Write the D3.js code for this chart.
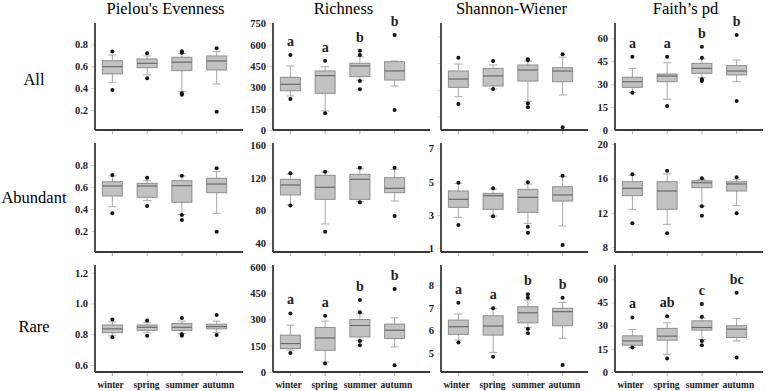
<!DOCTYPE html>
<html>
<head>
<meta charset="utf-8">
<script src="https://cdn.jsdelivr.net/npm/d3@7"></script>
<style>
  body { margin: 0; background: #fff; }
  svg { display: block; }
</style>
</head>
<body>
<svg id="chart" width="772" height="391"></svg>
<script>
const seasons = ["winter", "spring", "summer", "autumn"]
const metrics = ["Pielou's Evenness", "Richness", "Shannon-Wiener", "Faith’s pd"]
const groups = ["All", "Abundant", "Rare"]

// box stats per season: [whisker low, q1, median, q3, whisker high]
const pielouAll = [[0.453, 0.529, 0.595, 0.650, 0.702], [0.520, 0.586, 0.626, 0.666, 0.693], [0.367, 0.559, 0.636, 0.681, 0.715], [0.437, 0.565, 0.647, 0.693, 0.733]]
const pielouAllOut = [[0.733, 0.383], [0.718, 0.489], [0.735, 0.722, 0.352, 0.340], [0.763, 0.184]]
const richAll = [[239, 276, 321, 370, 450], [134, 258, 382, 415, 445], [350, 375, 450, 469, 515], [309, 351, 415, 480, 485]]
const richAllOut = [[527, 218], [487, 117], [557, 527, 344, 286], [668, 141]]
const shanAll = [[3.49, 4.19, 4.81, 5.41, 5.93], [4.07, 4.29, 5.04, 5.61, 5.86], [3.12, 4.66, 5.49, 5.86, 6.15], [3.62, 4.61, 5.41, 5.66, 6.44]]
const shanAllOut = [[6.41, 2.94], [6.16, 4.07], [6.29, 6.23, 2.99, 2.70], [6.66, 1.20]]
const faithAll = [[24.4, 27.9, 31.6, 34.5, 40.3], [20.1, 31.6, 35.3, 36.6, 44.0], [34.2, 37.1, 40.3, 43.6, 46.5], [31.6, 36.0, 38.6, 42.1, 45.8]]
const faithAllOut = [[47.9, 24.4], [47.9, 15.7], [54.5, 47.3, 33.2, 32.0], [62.1, 19.0]]

const pielouAbu = [[0.421, 0.518, 0.609, 0.648, 0.700], [0.476, 0.506, 0.609, 0.633, 0.657], [0.350, 0.461, 0.612, 0.657, 0.700], [0.361, 0.548, 0.627, 0.679, 0.739]]
const pielouAbuOut = [[0.709, 0.361], [0.685, 0.427], [0.703, 0.345, 0.300], [0.770, 0.194]]
const richAbu = [[86.8, 99.0, 111.2, 118.1, 124.5], [63.6, 93.7, 108.4, 123.0, 127.0], [90.8, 93.7, 118.1, 124.2, 131.0], [91.6, 101.8, 107.1, 120.1, 130.3]]
const richAbuOut = [[125.4, 86.0], [127.4, 54.2], [132.3, 90.0], [132.3, 73.3]]
const shanAbu = [[2.86, 3.46, 3.94, 4.44, 4.90], [2.94, 3.34, 4.16, 4.30, 4.55], [2.50, 3.16, 4.06, 4.54, 4.85], [2.34, 3.84, 4.20, 4.70, 5.30]]
const shanAbuOut = [[4.94, 2.40], [4.60, 2.92], [4.96, 2.30, 1.94], [5.36, 1.20]]
const faithAbu = [[12.41, 14.0, 14.86, 15.62, 16.4], [10.67, 12.41, 14.54, 15.62, 16.52], [12.80, 14.93, 15.5, 15.74, 15.9], [12.83, 14.54, 15.36, 15.62, 15.9]]
const faithAbuOut = [[16.48, 10.79], [16.90, 9.63], [16.02, 12.78, 11.67], [16.13, 11.95]]

const pielouRare = [[0.79, 0.81, 0.835, 0.86, 0.88], [0.81, 0.825, 0.845, 0.86, 0.875], [0.805, 0.825, 0.845, 0.87, 0.885], [0.81, 0.835, 0.85, 0.865, 0.885]]
const pielouRareOut = [[0.895, 0.78], [0.89, 0.79], [0.905, 0.80, 0.79], [0.925, 0.795]]
const richRare = [[124, 134, 162, 210, 267], [57, 124, 194, 254, 290], [181, 200, 265, 299, 332], [143, 191, 238, 273, 309]]
const richRareOut = [[334, 109], [320, 48], [410, 340, 177, 153], [473, 38]]
const shanRare = [[5.58, 5.83, 6.17, 6.46, 6.73], [5.04, 5.80, 6.20, 6.65, 6.97], [6.14, 6.34, 6.78, 7.05, 7.34], [5.66, 6.21, 6.83, 6.98, 7.24]]
const shanRareOut = [[7.22, 5.48], [6.98, 4.85], [7.59, 7.44, 6.07, 5.88], [7.44, 4.49]]
const faithRare = [[15.8, 17.3, 20.1, 23.4, 27.5], [11.5, 20.6, 23.2, 28.2, 31.8], [21.0, 27.1, 28.8, 33.1, 35.0], [20.1, 22.3, 27.7, 29.9, 34.7]]
const faithRareOut = [[35.3, 15.8], [36.1, 8.7], [43.9, 35.7, 20.1, 17.3], [51.3, 9.3]]

// significance letters
const richAllLetters = ["a", "a", "b", "b"]
const faithAllLetters = ["a", "a", "b", "b"]
const richRareLetters = ["a", "a", "b", "b"]
const shanRareLetters = ["a", "a", "b", "b"]
const faithRareLetters = ["a", "ab", "c", "bc"]

// axis ticks
const pielouTicks = [0.2, 0.4, 0.6, 0.8]
const pielouRareTicks = [0.6, 0.8, 1.0, 1.2]
const richAllTicks = [0, 150, 300, 450, 600, 750]
const richAbuTicks = [40, 80, 120, 160]
const richRareTicks = [0, 150, 300, 450, 600]
const shanAllTicks = [2, 4, 6, 8]
const shanAbuTicks = [1, 3, 5, 7]
const shanRareTicks = [5, 6, 7, 8]
const faithTicks = [0, 15, 30, 45, 60]
const faithAbuTicks = [8, 12, 16, 20]

// layout
const colX = [95, 273, 441, 615]
const colEnd = [243, 430, 588, 763]
const rowTop = [23, 143, 265]
const rowBottom = [130, 252, 372]
const bandSpan = 139

const panels = [
    { row: 0, col: 0, stats: pielouAll, out: pielouAllOut, domain: [0.017, 0.994], ticks: pielouTicks, fmt: ".1f" },
    { row: 0, col: 1, stats: richAll, out: richAllOut, domain: [0, 752], ticks: richAllTicks, letters: richAllLetters },
    { row: 0, col: 2, stats: shanAll, out: shanAllOut, domain: [1, 9], ticks: shanAllTicks, hideLabels: true },
    { row: 0, col: 3, stats: faithAll, out: faithAllOut, domain: [0, 70], ticks: faithTicks, letters: faithAllLetters },
    { row: 1, col: 0, stats: pielouAbu, out: pielouAbuOut, domain: [0.009, 1.0], ticks: pielouTicks, fmt: ".1f" },
    { row: 1, col: 1, stats: richAbu, out: richAbuOut, domain: [29.4, 162.4], ticks: richAbuTicks },
    { row: 1, col: 2, stats: shanAbu, out: shanAbuOut, domain: [0.78, 7.32], ticks: shanAbuTicks },
    { row: 1, col: 3, stats: faithAbu, out: faithAbuOut, domain: [7.45, 20.12], ticks: faithAbuTicks },
    { row: 2, col: 0, stats: pielouRare, out: pielouRareOut, domain: [0.5545, 1.25], ticks: pielouRareTicks, fmt: ".1f" },
    { row: 2, col: 1, stats: richRare, out: richRareOut, domain: [0, 610], ticks: richRareTicks, letters: richRareLetters },
    { row: 2, col: 2, stats: shanRare, out: shanRareOut, domain: [4.18, 8.88], ticks: shanRareTicks, letters: shanRareLetters },
    { row: 2, col: 3, stats: faithRare, out: faithRareOut, domain: [0, 69.2], ticks: faithTicks, letters: faithRareLetters }
]

const serif = "'Liberation Serif', 'Times New Roman', serif"
const svg = d3.select("#chart")

// column titles
metrics.forEach(function (m, i) {
    svg.append("text")
        .attr("x", colX[i] + bandSpan / 2 + 1)
        .attr("y", 14)
        .attr("text-anchor", "middle")
        .style("font-family", serif)
        .style("font-size", "16.5px")
        .text(m)
})

// row labels
const rowLabelY = [85, 203, 332]
groups.forEach(function (g, i) {
    svg.append("text")
        .attr("x", 34)
        .attr("y", rowLabelY[i])
        .attr("text-anchor", "middle")
        .style("font-family", serif)
        .style("font-size", "16.5px")
        .text(g)
})

function drawPanel(p) {
    let x0 = colX[p.col], x1 = colEnd[p.col]
    let top = rowTop[p.row], bottom = rowBottom[p.row]

    let xScale = d3.scaleBand()
        .domain(seasons)
        .range([x0, x0 + bandSpan])
    let yScale = d3.scaleLinear()
        .domain(p.domain)
        .range([bottom, top])

    let g = svg.append("g")
    let fmt = p.fmt ? d3.format(p.fmt) : d3.format("d")

    // y axis: faint ticks, bold labels
    let yAxis = g.append("g")
        .attr("transform", "translate(" + x0 + ",0)")
        .call(d3.axisLeft(yScale).tickValues(p.ticks).tickFormat(fmt).tickSize(4).tickPadding(3))
    yAxis.select(".domain").remove()
    yAxis.selectAll(".tick line").attr("stroke", "#d4d4d4")
    yAxis.selectAll(".tick text")
        .style("font-family", serif)
        .style("font-weight", "bold")
        .style("font-size", "10.5px")
        .attr("fill", "#222")
        .style("display", p.hideLabels ? "none" : null)

    // x ticks
    g.selectAll(".xt")
        .data(seasons)
        .enter().append("line")
        .attr("x1", d => xScale(d) + xScale.bandwidth() / 2)
        .attr("x2", d => xScale(d) + xScale.bandwidth() / 2)
        .attr("y1", bottom)
        .attr("y2", bottom + 4)
        .attr("stroke", "#aaa")

    // frame lines
    g.append("line")
        .attr("x1", x0).attr("x2", x0)
        .attr("y1", top).attr("y2", bottom)
        .attr("stroke", "#3a3a3a").attr("stroke-width", 1.8)
    g.append("line")
        .attr("x1", x0).attr("x2", x1)
        .attr("y1", bottom).attr("y2", bottom)
        .attr("stroke", "#3a3a3a").attr("stroke-width", 1.8)

    let bw = 20, cap = 8
    seasons.forEach(function (s, i) {
        let st = p.stats[i]
        let cx = xScale(s) + xScale.bandwidth() / 2
        let b = g.append("g")
        // whiskers
        b.append("line")
            .attr("x1", cx).attr("x2", cx)
            .attr("y1", yScale(st[0])).attr("y2", yScale(st[4]))
            .attr("stroke", "#a8a8a8")
        ;[st[0], st[4]].forEach(function (v) {
            b.append("line")
                .attr("x1", cx - cap / 2).attr("x2", cx + cap / 2)
                .attr("y1", yScale(v)).attr("y2", yScale(v))
                .attr("stroke", "#a8a8a8")
        })
        // box
        b.append("rect")
            .attr("x", cx - bw / 2)
            .attr("y", yScale(st[3]))
            .attr("width", bw)
            .attr("height", yScale(st[1]) - yScale(st[3]))
            .attr("fill", "#c2c2c2")
            .attr("stroke", "#8e8e8e")
        b.append("line")
            .attr("x1", cx - bw / 2).attr("x2", cx + bw / 2)
            .attr("y1", yScale(st[2])).attr("y2", yScale(st[2]))
            .attr("stroke", "#6a6a6a").attr("stroke-width", 1.2)
        // outliers
        b.selectAll("circle")
            .data(p.out[i])
            .enter().append("circle")
            .attr("cx", cx)
            .attr("cy", d => yScale(d))
            .attr("r", 2)
            .attr("fill", "#111")
        // letters above highest point
        if (p.letters) {
            let maxV = d3.max(p.out[i].concat([st[4]]))
            b.append("text")
                .attr("x", cx)
                .attr("y", yScale(maxV) - 9)
                .attr("text-anchor", "middle")
                .style("font-family", serif)
                .style("font-weight", "bold")
                .style("font-size", "14px")
                .attr("fill", "#222")
                .text(p.letters[i])
        }
    })

    // season labels only on bottom row, nudged apart a little like the original
    if (p.row == 2) {
        g.selectAll(".xl")
            .data(seasons)
            .enter().append("text")
            .attr("x", (d, i) => xScale(d) + xScale.bandwidth() / 2 + (i - 1.5) * 1.2)
            .attr("y", 388)
            .attr("text-anchor", "middle")
            .style("font-family", serif)
            .style("font-weight", "bold")
            .style("font-size", "9.5px")
            .attr("fill", "#222")
            .text(d => d)
    }
}

panels.forEach(drawPanel)
</script>
</body>
</html>
